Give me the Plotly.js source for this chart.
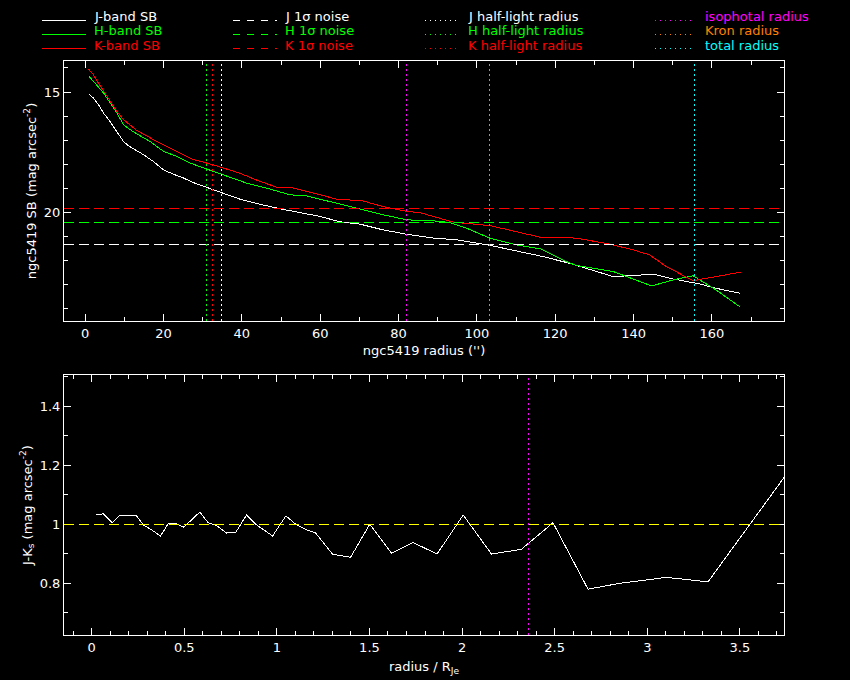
<!DOCTYPE html>
<html><head><meta charset="utf-8">
<script src="https://cdn.plot.ly/plotly-3.0.1.min.js"></script>
<style>html,body{margin:0;padding:0;background:#000;}#plot{width:850px;height:680px;}#plot path{shape-rendering:crispEdges;}</style>
</head><body><div id="plot"></div>
<script>
// ---- data ----
const rJ  = [0.85, 2.1, 3.4, 4.7, 6.0, 7.2, 8.5, 9.8, 11.1, 12.8, 14.9, 17.4, 20.0, 22.5, 25.1, 27.6, 31.0, 34.4, 39.5, 44.6, 49.7, 54.9, 60.0, 65.0, 70.2, 76.1, 82.1, 88.9, 94.8, 103.3, 110.1, 116.9, 123.7, 127.1, 134.8, 139.9, 145.0, 150.1, 156.9, 161.1, 167.3];
const sbJ = [15.07, 15.25, 15.53, 15.88, 16.15, 16.43, 16.78, 17.06, 17.24, 17.40, 17.61, 17.89, 18.24, 18.42, 18.58, 18.77, 18.97, 19.17, 19.46, 19.67, 19.86, 20.02, 20.18, 20.40, 20.50, 20.74, 20.92, 21.08, 21.15, 21.38, 21.60, 21.85, 22.13, 22.29, 22.68, 22.64, 22.58, 22.78, 22.99, 23.17, 23.38];
const rH  = [0.85, 2.1, 3.4, 4.7, 6.4, 8.1, 9.8, 11.5, 14.0, 16.6, 20.0, 23.4, 26.8, 31.0, 36.1, 41.2, 46.3, 52.3, 56.5, 60.0, 64.2, 70.2, 76.1, 82.1, 88.9, 93.1, 97.4, 103.3, 110.1, 116.5, 122.9, 125.4, 134.8, 144.6, 150.1, 155.2, 161.1, 167.3];
const sbH = [14.32, 14.56, 14.79, 15.04, 15.46, 15.88, 16.36, 16.57, 16.82, 17.06, 17.47, 17.68, 17.96, 18.21, 18.49, 18.79, 19.00, 19.28, 19.32, 19.46, 19.63, 19.88, 20.11, 20.32, 20.36, 20.43, 20.67, 21.08, 21.36, 21.54, 22.06, 22.22, 22.47, 23.07, 22.82, 22.65, 23.24, 23.96];
const rK  = [0.85, 2.1, 3.4, 4.7, 6.4, 8.1, 9.8, 13.2, 18.3, 23.4, 27.2, 32.7, 39.5, 44.6, 48.9, 52.3, 58.2, 65.0, 70.2, 76.1, 82.1, 85.5, 88.9, 94.0, 103.3, 110.1, 116.1, 125.4, 133.9, 139.9, 144.1, 148.4, 155.2, 161.1, 167.3];
const sbK = [14.04, 14.28, 14.63, 14.97, 15.39, 15.81, 16.15, 16.60, 17.06, 17.47, 17.79, 18.03, 18.38, 18.72, 18.96, 18.96, 19.21, 19.49, 19.50, 19.77, 19.97, 20.02, 20.18, 20.42, 20.56, 20.81, 21.04, 21.08, 21.33, 21.57, 21.78, 22.27, 22.85, 22.68, 22.50];

const noiseJ = 21.36, noiseH = 20.42, noiseK = 19.83;
const halfJ = 34.8, halfH = 31.1, halfK = 32.6;
const isoRadius = 82.1, kronRadius = 103.3, totalRadius = 155.5;

const jkX = [0.023, 0.063, 0.111, 0.153, 0.243, 0.279, 0.324, 0.372, 0.413, 0.450, 0.498, 0.584, 0.629, 0.675, 0.729, 0.779, 0.836, 0.890, 0.977, 1.049, 1.106, 1.160, 1.210, 1.300, 1.349, 1.398, 1.502, 1.619, 1.736, 1.865, 2.006, 2.159, 2.320, 2.491, 2.680, 2.851, 3.103, 3.328, 3.738];
const jkY = [1.031, 1.035, 1.005, 1.031, 1.028, 0.998, 0.981, 0.960, 1.001, 1.003, 0.990, 1.041, 1.005, 0.995, 0.970, 0.973, 1.031, 0.998, 0.960, 1.028, 0.998, 0.981, 0.970, 0.899, 0.893, 0.888, 1.000, 0.902, 0.938, 0.899, 1.031, 0.899, 0.915, 1.005, 0.780, 0.800, 0.820, 0.805, 1.158];
const jkRef = 1.0;

const legendLabels = [
  ['J-band SB', 'H-band SB', 'K-band SB'],
  ['J 1σ noise', 'H 1σ noise', 'K 1σ noise'],
  ['J half-light radius', 'H half-light radius', 'K half-light radius'],
  ['isophotal radius', 'Kron radius', 'total radius']
];

// ---- styling ----
const WHITE = '#ffffff', GREEN = '#00ff00', RED = '#ff0000', MAG = '#ff00ff', ORANGE = '#ff8000', CYAN = '#00ffff', YELLOW = '#ffff00';
const FONT = 'DejaVu Sans';
const DASH = '10px,5px', DOT = '2px,3px';
const L = 64, R = 784, T = 61, B = 635, W = 850, H = 680;
const PX = p => (p - L) / (R - L);
const PY = p => (B - p) / (B - T);

const traces = [
  {x: rJ, y: sbJ, xaxis: 'x', yaxis: 'y', mode: 'lines', line: {color: WHITE, width: 1}},
  {x: rH, y: sbH, xaxis: 'x', yaxis: 'y', mode: 'lines', line: {color: GREEN, width: 1}},
  {x: rK, y: sbK, xaxis: 'x', yaxis: 'y', mode: 'lines', line: {color: RED, width: 1}},
  {x: jkX, y: jkY, xaxis: 'x2', yaxis: 'y2', mode: 'lines', line: {color: WHITE, width: 1}}
].map(t => Object.assign(t, {showlegend: false, hoverinfo: 'skip'}));

const shapes = [];
[[noiseJ, WHITE], [noiseH, GREEN], [noiseK, RED]].forEach(([v, c]) => shapes.push({
  type: 'line', xref: 'x domain', x0: 0, x1: 1, yref: 'y', y0: v, y1: v, line: {color: c, width: 1, dash: DASH}}));
[[halfJ, WHITE], [halfH, GREEN], [halfK, RED], [isoRadius, MAG], [kronRadius, ORANGE], [totalRadius, CYAN]].forEach(([v, c]) => shapes.push({
  type: 'line', xref: 'x', x0: v, x1: v, yref: 'y domain', y0: 0, y1: 1, line: {color: c, width: 1, dash: DOT}}));
shapes.push({type: 'line', xref: 'x2 domain', x0: 0, x1: 1, yref: 'y2', y0: jkRef, y1: jkRef, line: {color: YELLOW, width: 1, dash: DASH}});
shapes.push({type: 'line', xref: 'x2', x0: isoRadius / halfJ, x1: isoRadius / halfJ, yref: 'y2 domain', y0: 0, y1: 1, line: {color: MAG, width: 1, dash: DOT}});

// legend (drawn)
const colLine = [[42, 86], [233, 277], [425, 457], [655, 693]];
const colText = [92, 283, 466, 703];
const colDash = ['solid', '7px,7px', '1px,4px', '1px,4px'];
const colColors = [[WHITE, GREEN, RED], [WHITE, GREEN, RED], [WHITE, GREEN, RED], [MAG, ORANGE, CYAN]];
const rowY = [20.5, 34.5, 48.5];
const annotations = [];
legendLabels.forEach((col, ci) => col.forEach((lab, ri) => {
  const c = colColors[ci][ri];
  shapes.push({type: 'line', xref: 'paper', yref: 'paper', x0: PX(colLine[ci][0]), x1: PX(colLine[ci][1]),
    y0: PY(rowY[ri]), y1: PY(rowY[ri]), line: {color: c, width: 1, dash: colDash[ci]}});
  annotations.push({xref: 'paper', yref: 'paper', x: PX(colText[ci]), y: PY(rowY[ri] - 3.5), xanchor: 'left', yanchor: 'middle',
    text: lab, showarrow: false, font: {family: FONT, size: 13, color: c}});
}));

const axBase = {
  ticks: 'inside', ticklen: 7, tickwidth: 1, tickcolor: WHITE,
  showline: true, linecolor: WHITE, linewidth: 1, mirror: 'allticks',
  showgrid: false, zeroline: false,
  tickfont: {family: FONT, size: 13, color: WHITE}
};
const minor = dt => ({dtick: dt, ticks: 'inside', ticklen: 4, tickcolor: WHITE, tickwidth: 1, showgrid: false});

const layout = {
  width: W, height: H,
  margin: {l: L, r: W - R, t: T, b: H - B},
  paper_bgcolor: '#000', plot_bgcolor: '#000',
  font: {family: FONT, size: 13, color: WHITE},
  showlegend: false,
  xaxis: Object.assign({}, axBase, {anchor: 'y', domain: [0, 1], range: [-5.4, 178.4], tick0: 0, dtick: 20, minor: minor(10),
    title: {text: "ngc5419 radius ('')", font: {family: FONT, size: 13, color: WHITE}, standoff: 6}}),
  yaxis: Object.assign({}, axBase, {anchor: 'x', domain: [(B - 321) / (B - T), 1], range: [24.53, 13.71], tick0: 0, dtick: 5, minor: minor(1),
    title: {text: 'ngc5419 SB (mag arcsec<sup>-2</sup>)', font: {family: FONT, size: 13, color: WHITE}, standoff: 4}}),
  xaxis2: Object.assign({}, axBase, {anchor: 'y2', domain: [0, 1], range: [-0.149, 3.738], tick0: 0, dtick: 0.5, minor: minor(0.1),
    title: {text: 'radius / R<sub>Je</sub>', font: {family: FONT, size: 13, color: WHITE}, standoff: 8}}),
  yaxis2: Object.assign({}, axBase, {anchor: 'x2', domain: [0, (B - 375) / (B - T)], range: [0.625, 1.505], tick0: 0, dtick: 0.2, minor: minor(0.1),
    title: {text: 'J-K<sub>s</sub> (mag arcsec<sup>-2</sup>)', font: {family: FONT, size: 13, color: WHITE}, standoff: 4}}),
  shapes: shapes,
  annotations: annotations
};

Plotly.newPlot('plot', traces, layout, {displayModeBar: false, staticPlot: true});
</script></body></html>
